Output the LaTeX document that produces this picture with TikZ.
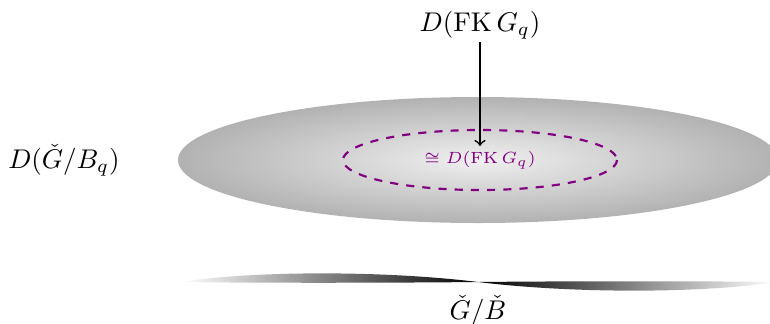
\documentclass[tikz,border=0pt]{standalone}
\usepackage{amssymb}
\pgfdeclareradialshading{ellshade}{\pgfpoint{0bp}{0bp}}{color(0bp)=(white!94!black); color(34bp)=(gray!78); color(50bp)=(gray!78)}
\begin{document}
\begin{tikzpicture}[x=0.013cm,y=-0.013cm,
  lbl/.style={inner sep=1pt},
  inner/.style={draw=violet,thick,dashed},
  band/.style={draw=none}]
\useasboundingbox (0,0) rectangle (770,323);
% big shaded ellipse
\shade[shading=ellshade] (478,160) ellipse [x radius=300,y radius=63];
% dashed inner ellipse
\draw[inner] (480,160) ellipse [x radius=137,y radius=30];
\node[lbl,text=violet,font=\fontsize{6.4}{8}\selectfont] (iso) at (480,160) {$\cong D(\mathrm{FK}\,G_q)$};
% labels
\node[lbl] (top) at (480,25) {$D(\mathrm{FK}\,G_q)$};
\node[lbl] (left) at (64,160) {$D(\check G/B_q)$};
\node[lbl] (bot) at (478,311) {$\check G/\check B$};
\coordinate (tip) at (480,146);
\draw[semithick,->] (top) -- (tip);
% twisted band
\shade[band,left color=white,right color=black]
  (180,282) .. controls (250,271) and (380,270) .. (478,282)
  .. controls (380,283) and (250,283) .. (180,282) -- cycle;
\shade[band,left color=black,right color=white]
  (776,282) .. controls (706,293) and (576,294) .. (478,282)
  .. controls (576,281) and (706,281) .. (776,282) -- cycle;
\end{tikzpicture}
\end{document}
